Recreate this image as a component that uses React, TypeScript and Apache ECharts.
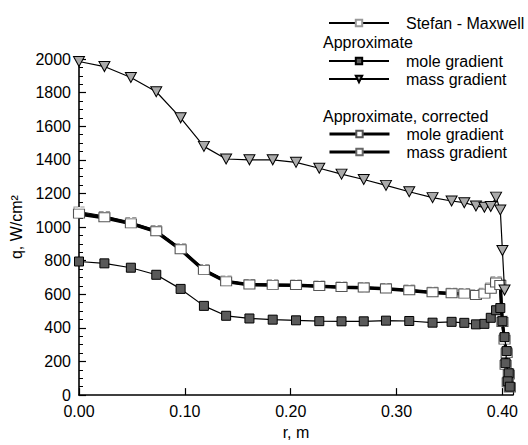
import React, { useEffect, useRef } from "react";
import * as echarts from "echarts";

const rValues = [0, 0.024, 0.049, 0.073, 0.096, 0.118, 0.139, 0.161, 0.183, 0.205, 0.227, 0.248, 0.269, 0.29, 0.312, 0.334, 0.352, 0.364, 0.375, 0.383, 0.389, 0.394, 0.398, 0.4, 0.402, 0.404, 0.403, 0.406, 0.405, 0.407];

const stefanMaxwell = [1092, 1066, 1030, 982, 874, 750, 682, 661, 660, 658, 652, 646, 642, 637, 628, 615, 609, 607, 600, 609, 640, 678, 662, 442, 338, 256, 186, 128, 80, 48];
const approxMole = [795, 784, 758, 716, 632, 531, 472, 456, 449, 445, 440, 439, 439, 443, 441, 431, 436, 430, 421, 424, 460, 505, 518, 440, 345, 262, 190, 130, 82, 50];
const approxMass = [1985, 1955, 1890, 1805, 1650, 1480, 1405, 1400, 1400, 1385, 1350, 1315, 1283, 1248, 1210, 1175, 1155, 1145, 1125, 1118, 1122, 1178, 1102, 860, 625];
const correctedMole = [1080, 1058, 1022, 975, 868, 745, 677, 658, 656, 655, 649, 643, 640, 634, 624, 612, 606, 604, 596, 604, 633, 670, 655, 435, 330, 250, 180, 122, 76, 45];
const correctedMass = [1076, 1054, 1019, 971, 864, 741, 674, 655, 654, 652, 646, 640, 637, 631, 621, 609, 603, 601, 593, 601, 630, 666, 650, 430, 326, 246, 176, 118, 72, 42];

const xTickLabels = ["0.00", "0.10", "0.20", "0.30", "0.40"];
const yTickLabels = ["0", "200", "400", "600", "800", "1000", "1200", "1400", "1600", "1800", "2000"];

const legendNames: Record<string, string> = {
  "Stefan - Maxwell": "Stefan - Maxwell",
  "Approximate mole gradient": "mole gradient",
  "Approximate mass gradient": "mass gradient",
  "Corrected mole gradient": "mole gradient",
  "Corrected mass gradient": "mass gradient",
};

const FONT = "'Liberation Sans', Arial, Helvetica, sans-serif";

function pairs(ys: number[]) {
  return ys.map((q, i) => [rValues[i], q]);
}

export default function App() {
  const ref = useRef<HTMLDivElement>(null);
  useEffect(() => {
    if (!ref.current) return;
    const chart = echarts.init(ref.current, undefined, { renderer: "svg" });
    const legendText = {
      fontFamily: FONT,
      fontSize: 16,
      color: "#000",
      padding: [0, 0, 0, 12],
    };
    const legendBase = {
      left: 328,
      orient: "vertical" as const,
      itemWidth: 60,
      itemHeight: 8,
      itemGap: 2,
      textStyle: legendText,
      formatter: (n: string) => legendNames[n] ?? n,
      selectedMode: false,
      padding: 0,
    };
    chart.setOption({
      animation: false,
      backgroundColor: "#fff",
      grid: { left: 79, right: 15, top: 59, bottom: 43 },
      xAxis: {
        type: "value",
        min: 0,
        max: 0.41,
        interval: 0.1,
        name: "r, m",
        nameLocation: "middle",
        nameGap: 25,
        nameTextStyle: { fontFamily: FONT, fontSize: 16, color: "#000" },
        axisLine: { lineStyle: { color: "#000", width: 1.6 } },
        axisTick: { inside: true, length: 7, lineStyle: { color: "#000", width: 1.2 } },
        axisLabel: {
          fontFamily: FONT,
          fontSize: 16,
          color: "#000",
          margin: 8,
          formatter: (v: number) => {
            const i = Math.round(v * 10);
            return Math.abs(v * 10 - i) < 1e-6 ? xTickLabels[i] ?? "" : "";
          },
        },
        splitLine: { show: false },
      },
      yAxis: {
        type: "value",
        min: 0,
        max: 2000,
        interval: 200,
        name: "q, W/cm²",
        nameLocation: "middle",
        nameGap: 54,
        nameTextStyle: { fontFamily: FONT, fontSize: 16, color: "#000" },
        axisLine: { lineStyle: { color: "#000", width: 1.6 } },
        axisTick: { inside: true, length: 7, lineStyle: { color: "#000", width: 1.2 } },
        minorTick: { show: true, splitNumber: 4, length: 4, lineStyle: { color: "#000", width: 1 } },
        axisLabel: {
          fontFamily: FONT,
          fontSize: 16,
          color: "#000",
          margin: 8,
          formatter: (v: number) => yTickLabels[Math.round(v / 200)] ?? "",
        },
        splitLine: { show: false },
      },
      legend: [
        { ...legendBase, top: 15, data: ["Stefan - Maxwell"] },
        { ...legendBase, top: 53, data: ["Approximate mole gradient", "Approximate mass gradient"] },
        { ...legendBase, top: 126, lineStyle: { width: 3 }, data: ["Corrected mole gradient", "Corrected mass gradient"] },
      ],
      graphic: [
        { type: "text", left: 323, top: 34, style: { text: "Approximate", font: `16px ${FONT}`, fill: "#000" } },
        { type: "text", left: 323, top: 108, style: { text: "Approximate, corrected", font: `16px ${FONT}`, fill: "#000" } },
      ],
      series: [
        {
          name: "Stefan - Maxwell",
          type: "line",
          data: pairs(stefanMaxwell),
          symbol: "rect",
          symbolSize: [10, 9],
          lineStyle: { color: "#000", width: 1 },
          itemStyle: { color: "#fff", borderColor: "#999", borderWidth: 1, borderType: "dashed" },
          z: 2,
        },
        {
          name: "Corrected mass gradient",
          type: "line",
          data: pairs(correctedMass),
          symbol: "rect",
          symbolSize: [8, 4],
          lineStyle: { color: "#000", width: 3 },
          itemStyle: { color: "#fff", borderColor: "#666", borderWidth: 1 },
          z: 3,
        },
        {
          name: "Corrected mole gradient",
          type: "line",
          data: pairs(correctedMole),
          symbol: "rect",
          symbolSize: [11, 9],
          lineStyle: { color: "#000", width: 3 },
          itemStyle: { color: "#fff", borderColor: "#555", borderWidth: 1 },
          z: 4,
        },
        {
          name: "Approximate mole gradient",
          type: "line",
          data: pairs(approxMole),
          symbol: "rect",
          symbolSize: [9, 9],
          lineStyle: { color: "#000", width: 1.2 },
          itemStyle: { color: "#5a5a5a", borderColor: "#000", borderWidth: 1 },
          z: 5,
        },
        {
          name: "Approximate mass gradient",
          type: "line",
          data: pairs(approxMass),
          symbol: "triangle",
          symbolRotate: 180,
          symbolSize: [11, 10],
          lineStyle: { color: "#000", width: 1.2 },
          itemStyle: { color: "#aaa", borderColor: "#000", borderWidth: 1 },
          z: 5,
        },
      ],
    });
    return () => chart.dispose();
  }, []);
  return <div ref={ref} style={{ position: "absolute", left: 0, top: 0, width: 528, height: 445 }} />;
}
